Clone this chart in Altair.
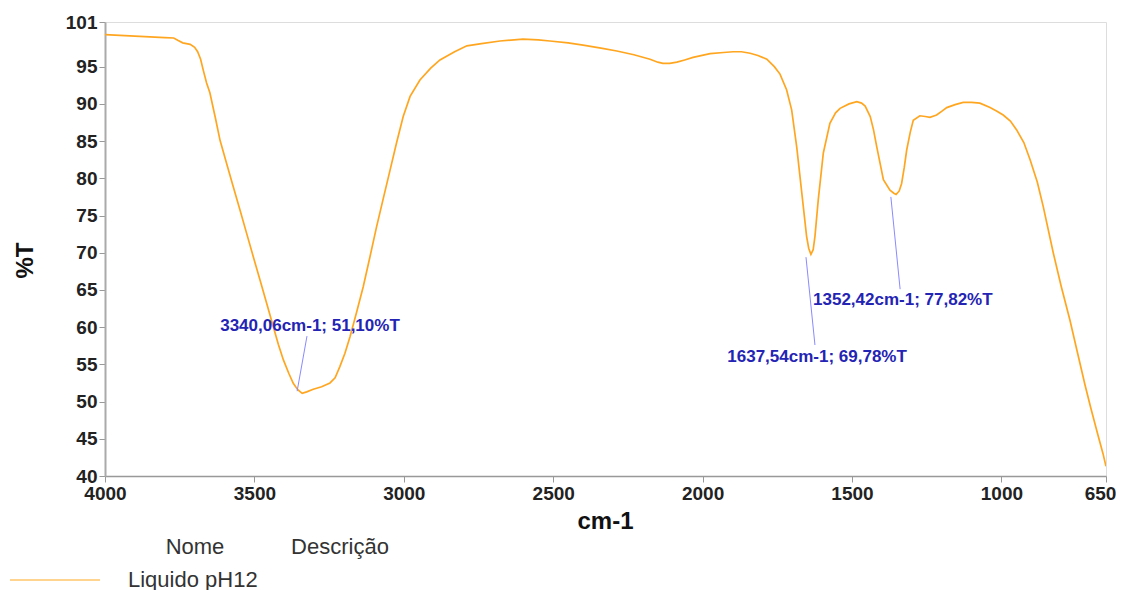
import altair as alt
import pandas as pd

# Spectrum (wavenumber cm-1, %T)
wavenumber = [4000, 3950, 3900, 3850, 3800, 3770, 3755, 3740, 3715, 3700, 3690, 3680, 3671, 3660, 3649,
              3630, 3615, 3593, 3571, 3548, 3526, 3504, 3481, 3459, 3437, 3420, 3403, 3385, 3370, 3355,
              3340.06, 3325, 3303, 3275, 3247, 3230, 3214, 3197, 3180, 3158, 3136, 3113, 3091, 3068,
              3046, 3024, 3002, 2979, 2946, 2910, 2879, 2830, 2789, 2740, 2678, 2601, 2550, 2511, 2450,
              2400, 2340, 2287, 2230, 2176, 2150, 2133, 2110, 2086, 2060, 2032, 1975, 1930, 1898, 1870,
              1841, 1815, 1785, 1760, 1741, 1719, 1702, 1685, 1668, 1652, 1645, 1637.54, 1630, 1624,
              1613, 1596, 1574, 1555, 1540, 1510, 1484, 1468, 1456, 1439, 1428, 1417, 1405, 1395, 1373,
              1360, 1352.42, 1342, 1334, 1325, 1317, 1305, 1295, 1273, 1255, 1239, 1217, 1200, 1183,
              1155, 1128, 1100, 1072, 1038, 1015, 994, 970, 949, 925, 904, 880, 860, 826, 800, 771, 745,
              720, 700, 677, 660, 650]
transmittance = [99.3, 99.2, 99.1, 99.0, 98.9, 98.85, 98.5, 98.2, 98.0, 97.6, 97.0, 96.0, 94.5, 92.8, 91.5,
                 88.0, 85.1, 82.0, 78.9, 75.7, 72.6, 69.5, 66.3, 63.2, 60.1, 57.7, 55.6, 53.8, 52.45, 51.6,
                 51.10, 51.3, 51.65, 52.0, 52.5, 53.2, 54.7, 56.5, 58.7, 62.0, 65.4, 69.5, 73.5, 77.4,
                 81.1, 84.8, 88.3, 91.0, 93.2, 94.8, 95.9, 97.0, 97.8, 98.1, 98.45, 98.7, 98.6, 98.45, 98.2,
                 97.9, 97.5, 97.1, 96.6, 96.0, 95.6, 95.45, 95.45, 95.6, 95.9, 96.25, 96.75, 96.9, 97.0, 97.0,
                 96.8, 96.5, 96.0, 95.0, 94.0, 91.9, 89.2, 84.2, 78.0, 72.2, 70.6, 69.78, 70.4, 72.2,
                 77.1, 83.4, 87.4, 88.8, 89.4, 90.0, 90.3, 90.1, 89.7, 88.3, 86.5, 84.2, 81.8, 79.8, 78.4,
                 78.0, 77.82, 78.3, 79.3, 81.5, 83.8, 86.2, 87.8, 88.4, 88.3, 88.2, 88.5, 89.0, 89.5,
                 89.9, 90.2, 90.2, 90.1, 89.5, 89.0, 88.5, 87.7, 86.5, 84.8, 82.5, 79.5, 76.2, 69.9, 65.5, 61.0, 56.5,
                 52.2, 49.0, 45.5, 43.0, 41.3]

# Peak annotations
ann_text = ["3340,06cm-1; 51,10%T", "1637,54cm-1; 69,78%T", "1352,42cm-1; 77,82%T"]
ann_text_x = [3314, 1617, 1330]
ann_text_y = [60.15, 56.0, 63.7]
lead_x1 = [3357, 1654, 1370]
lead_y1 = [51.4, 69.4, 77.5]
lead_x2 = [3324, 1624, 1339]
lead_y2 = [58.8, 57.6, 65.1]

x_ticks = [4000, 3500, 3000, 2500, 2000, 1500, 1000, 650]
y_ticks = [40, 45, 50, 55, 60, 65, 70, 75, 80, 85, 90, 95, 101]

legend_headers = ["Nome", "Descrição"]
series_name = "Liquido pH12"

FONT = "Liberation Sans"
ORANGE = "#FFA621"

spec = pd.DataFrame({"wn": wavenumber, "t": transmittance})
ann = pd.DataFrame({"label": ann_text, "tx": ann_text_x, "ty": ann_text_y,
                    "x1": lead_x1, "y1": lead_y1, "x2": lead_x2, "y2": lead_y2})

xscale = alt.Scale(domain=[4000, 650], nice=False, zero=False)
yscale = alt.Scale(domain=[40, 101], nice=False, zero=False)

xaxis = alt.Axis(values=x_ticks, format="d", title="cm-1", grid=False, labelFont=FONT, labelFontSize=19,
                 labelFontWeight="bold", labelColor="#222", domainColor="#999", domainWidth=1.5,
                 tickColor="#999", tickSize=6, labelPadding=2, labelFlush=False, labelOverlap=False,
                 labelOffset={"condition": {"test": "datum.value === 650", "value": -6}, "value": 0},
                 titleFont=FONT, titleFontSize=24, titleFontWeight="bold", titleColor="#111",
                 titleX=500, titleY=45, titleBaseline="middle")
yaxis = alt.Axis(values=y_ticks, format="d", title="%T", grid=False, labelFont=FONT, labelFontSize=19,
                 labelFontWeight="bold", labelColor="#222", domainColor="#aaa", domainWidth=2,
                 tickColor="#999", tickSize=6, labelPadding=2, labelFlush=False, labelOverlap=False,
                 titleFont=FONT, titleFontSize=24, titleFontWeight="bold", titleColor="#111",
                 titleX=-80, titleY=238, titleAlign="center", titleBaseline="middle", titleAngle=-90)

line = alt.Chart(spec).mark_line(color=ORANGE, strokeWidth=1.7, clip=True).encode(
    x=alt.X("wn:Q", scale=xscale, axis=xaxis, sort=None),
    y=alt.Y("t:Q", scale=yscale, axis=yaxis),
    order=alt.Order("wn:Q", sort="descending"),
)

leaders = alt.Chart(ann).mark_rule(color="#8a8aff", strokeWidth=1).encode(
    x=alt.X("x1:Q", scale=xscale, axis=xaxis), y=alt.Y("y1:Q", scale=yscale, axis=yaxis),
    x2="x2:Q", y2="y2:Q",
)

labels = alt.Chart(ann).mark_text(font=FONT, fontSize=17, fontWeight="bold", color="#2424b4",
                                  align="center", baseline="middle").encode(
    x=alt.X("tx:Q", scale=xscale, axis=xaxis), y=alt.Y("ty:Q", scale=yscale, axis=yaxis), text="label:N",
)

hdr = pd.DataFrame({"h": legend_headers, "px": [90, 235]})
legend_hdr = alt.Chart(hdr).mark_text(font=FONT, fontSize=22, color="#333", align="center",
                                      baseline="middle").encode(
    x=alt.X("px:Q", scale=None), y=alt.value(525), text="h:N")

legend_line = alt.Chart(pd.DataFrame({"n": [series_name]})).mark_rule(
    color="#FFC66A", strokeWidth=1.5).encode(x=alt.value(-95), x2=alt.value(-5), y=alt.value(558))

legend_lbl = alt.Chart(pd.DataFrame({"n": [series_name]})).mark_text(
    font=FONT, fontSize=22, color="#333", align="left", baseline="middle").encode(
    x=alt.value(23), y=alt.value(558), text="n:N")

chart = alt.layer(line, leaders, labels, legend_hdr, legend_line, legend_lbl).properties(
    width=1001, height=454,
    autosize=alt.AutoSizeParams(type="none"),
    padding={"left": 97, "top": 14, "right": 10, "bottom": 114},
).configure_view(stroke=None).configure(background="white")

chart.save("out.html", embed_options={"renderer": "svg", "actions": False})
